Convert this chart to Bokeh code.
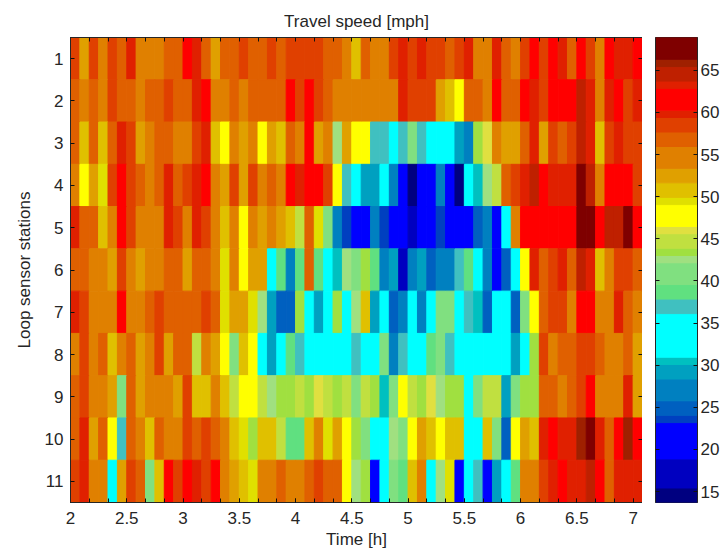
from bokeh.plotting import figure
from bokeh.layouts import row
from bokeh.models import LinearColorMapper, Range1d, LinearAxis, FixedTicker, ColumnDataSource
from bokeh.transform import transform
from bokeh.embed import file_html
from bokeh.resources import INLINE

title = "Travel speed [mph]"
xlabel = "Time [h]"
ylabel = "Loop sensor stations"

row1 = [58.8,52.7,58.8,54.8,58.8,57,63.3,54.8,54.8,54.8,57,57,62,63.3,57,52.7,57,57,58.8,57,57,58.8,57,58.8,58.8,58.8,58.8,57,57,54.8,50.9,57,54.8,54.8,58.8,63.3,58.8,63.3,58.8,58.8,57,58.8,63.3,54.8,54.8,63.3,57,54.8,58.8,62,58.8,62,63.3,57,62,58.8,54.8,62,63.3,63.3,62]
row2 = [57,54.8,57,54.8,58.8,57,57,54.8,57,57,58.8,57,57,63.3,62,54.8,54.8,57,54.8,57,57,57,57,62,58.8,62,58.8,57,54.8,54.8,54.8,54.8,54.8,54.8,54.8,63.3,58.8,58.8,58.8,52.7,50.9,48,57,57,54.8,62,57,57,62,63.3,58.8,62,62,62,64.6,63.3,54.8,63.3,62,58.8,63.3]
row3 = [57,50.9,57,50.9,57,63.3,58.8,52.7,54.8,57,57,54.8,54.8,58.8,63.3,50.9,48,54.8,52.7,54.8,48,52.7,50.9,57,54.8,62,52.7,54.8,42.6,52.7,48,48,36.9,36.9,33.5,36.9,41,36.9,33.5,33.5,33.5,29.2,27,43.5,46.1,54.8,52.7,52.7,57,63.3,52.7,58.8,57,58.8,64.6,63.3,50.9,58.8,63.3,58.8,58.8]
row4 = [54.8,48,52.7,49.6,58.8,62,58.8,57,54.8,57,63.3,57,58.8,63.3,62,54.8,52.7,58.8,52.7,58.8,54.8,57,54.8,62,63.3,62,62,58.8,48,36.9,33.5,29.2,29.2,33.5,27,20.9,14.4,20.9,20.9,27,20.9,14.4,33.5,30.5,42.6,44.8,57,58.8,63.3,64.6,62,63.3,63.3,63.3,67.8,64.6,54.8,62,62,62,58.8]
row5 = [63.3,57,57,50.9,54.8,62,58.8,54.8,54.8,54.8,63.3,58.8,54.8,63.3,58.8,54.8,50.9,54.8,48,54.8,52.7,54.8,52.7,50.9,44.8,57,49.6,41,27,23.4,20.9,20.9,27,23.4,20.9,20.9,16.9,20.9,20.9,23.4,20.9,20.9,20.9,24.7,27,20.9,33.5,54.8,62,62,62,62,62,62,67.8,67.8,62,64.6,64.6,67.8,62]
row6 = [57,57,54.8,54.8,52.7,58.8,54.8,52.7,54.8,54.8,57,57,52.7,57,57,54.8,49.6,54.8,48,52.7,52.7,33.5,38.7,27,38.7,57,38.7,33.5,30.5,42.6,41,43.5,38.7,27,29.2,16.9,27,29.2,24.7,27,27,36.9,38.7,33.5,27,20.9,24.7,33.5,48,63.3,57,58.8,63.3,57,64.6,63.3,50.9,54.8,58.8,58.8,57]
row7 = [63.3,58.8,54.8,54.8,54.8,62,54.8,54.8,57,58.8,57,57,57,57,58.8,57,49.6,52.7,52.7,49.6,42.6,29.2,24.7,24.7,43.5,33.5,29.2,33.5,43.5,33.5,42.6,50.9,29.2,33.5,24.7,27,33.5,27,33.5,41,41,33.5,36.9,30.5,24.7,33.5,33.5,24.7,41,48,57,58.8,58.8,54.8,62,62,54.8,54.8,63.3,57,54.8]
row8 = [54.8,58.8,54.8,57,50.9,54.8,57,52.7,54.8,58.8,52.7,57,57,44.8,54.8,52.7,48,41,50.9,48,33.5,29.2,33.5,38.7,36.9,33.5,33.5,33.5,33.5,33.5,36.9,33.5,33.5,41,27,36.9,33.5,33.5,38.7,41,36.9,33.5,33.5,33.5,33.5,33.5,33.5,29.2,33.5,43.5,58.8,54.8,57,57,58.8,58.8,57,54.8,54.8,57,52.7]
row9 = [57,58.8,54.8,54.8,52.7,41,57,52.7,54.8,54.8,54.8,52.7,58.8,50.9,50.9,54.8,50.9,44.8,48,48,44.8,42.6,43.5,43.5,44.8,43.5,46.1,44.8,43.5,44.8,41,44.8,43.5,30.5,41,48,44.8,43.5,46.1,42.6,43.5,43.5,33.5,41,44.8,44.8,29.2,41,43.5,43.5,57,57,54.8,57,58.8,62,54.8,54.8,54.8,63.3,52.7]
row10 = [57,63.3,52.7,57,48,36.9,57,54.8,50.9,57,54.8,54.8,58.8,57,58.8,57,54.8,50.9,49.6,43.5,50.9,50.9,44.8,38.7,38.7,50.9,54.8,49.6,52.7,48,43.5,41,33.5,33.5,42.6,41,48,52.7,50.9,48,50.9,50.9,33.5,33.5,50.9,41,24.7,48,52.7,50.9,63.3,62,63.3,63.3,65.9,67.8,63.3,57,62,65.9,62]
row11 = [58.8,63.3,54.8,54.8,33.5,52.7,58.8,57,41,50.9,62,58.8,62,63.3,58.8,62,54.8,52.7,50.9,49.6,54.8,54.8,57,54.8,54.8,57,58.8,57,57,48,42.6,43.5,20.9,33.5,41,38.7,50.9,54.8,33.5,42.6,49.6,20.9,33.5,36.9,20.9,29.2,33.5,38.7,54.8,54.8,58.8,63.3,62,63.3,63.3,64.6,62,57,63.3,63.3,63.3]
speeds = [row1,row2,row3,row4,row5,row6,row7,row8,row9,row10,row11]
assert all(len(r) == 61 for r in speeds)

speed_low = 13.7
speed_high = 68.9
start_hour = 2.0
step_hour = 1 / 12

# colour levels of the map, lowest speed first: (colour, number of levels)
band_colors = ["#000080","#0000c0","#0000ff","#0040c0","#0060c0","#0080c0","#00a0c0","#00c0c0","#00ffff","#40c0c0","#60e080","#80e080","#a0e080","#a0e040","#c0e040","#e0e040","#ffff00","#e0e000","#e0c000","#e0a000","#e08000","#e06000","#e04000","#e02000","#ff0000","#e02000","#bf2000","#9f2000","#7f0000"]
band_levels = [2,4,5,1,2,3,2,1,6,2,2,3,1,1,2,1,3,1,2,2,3,2,2,1,3,1,2,1,3]
palette = [c for c, n in zip(band_colors, band_levels) for _ in range(n)]

x_major = [2, 2.5, 3, 3.5, 4, 4.5, 5, 5.5, 6, 6.5, 7]
y_ticks = list(range(1, 12))
cb_ticks = [15, 20, 25, 30, 35, 40, 45, 50, 55, 60, 65]

FONT = "Liberation Sans"
INK = "#262626"
mapper = LinearColorMapper(palette=palette, low=speed_low, high=speed_high)

xs, ys, vs = [], [], []
for i, r in enumerate(speeds):
    for k, v in enumerate(r):
        xs.append(start_hour + (k + 0.5) * step_hour)
        ys.append(i + 1)
        vs.append(v)
src = ColumnDataSource(dict(x=xs, y=ys, v=vs))

x_end = start_hour + len(row1) * step_hour
p = figure(width=642, height=551, output_backend="svg", toolbar_location=None,
           x_range=Range1d(start_hour, x_end), y_range=Range1d(11.5, 0.5),
           min_border_left=70, min_border_right=0, min_border_top=37, min_border_bottom=49,
           x_axis_location=None, y_axis_location=None, background_fill_color="white")
p.grid.visible = False
p.outline_line_color = INK
p.rect("x", "y", width=step_hour, height=1, source=src,
       fill_color=transform("v", mapper), line_color=transform("v", mapper), line_width=1)

minor = [2 + i / 6 for i in range(31)]
def style(ax):
    ax.major_tick_in = 4
    ax.major_tick_out = 0
    ax.minor_tick_in = 4
    ax.minor_tick_out = 0
    ax.major_tick_line_color = "#111111"
    ax.minor_tick_line_color = "#111111"
    ax.axis_line_color = INK
    ax.major_label_text_font = FONT
    ax.major_label_text_font_size = "17px"
    ax.major_label_text_color = INK
    ax.axis_label_text_font = FONT
    ax.axis_label_text_font_size = "17px"
    ax.axis_label_text_font_style = "normal"
    ax.axis_label_text_color = INK

xb = LinearAxis(ticker=FixedTicker(ticks=x_major, minor_ticks=minor), axis_label=xlabel)
style(xb)
xb.major_label_standoff = 9
xb.axis_label_standoff = 3
p.add_layout(xb, "below")
xt = LinearAxis(ticker=FixedTicker(ticks=[], minor_ticks=minor))
style(xt)
p.add_layout(xt, "above")
yl = LinearAxis(ticker=FixedTicker(ticks=y_ticks), axis_label=ylabel)
style(yl)
yl.major_label_standoff = 7
yl.axis_label_standoff = 8
p.add_layout(yl, "left")
yr = LinearAxis(ticker=FixedTicker(ticks=[], minor_ticks=y_ticks))
style(yr)
p.add_layout(yr, "right")

p.title.text = title
p.title.align = "center"
p.title.text_font = FONT
p.title.text_font_size = "17px"
p.title.text_font_style = "normal"
p.title.text_color = INK
p.title.standoff = 14

# colour bar: one block per band of equal colour
step = (speed_high - speed_low) / len(palette)
bottoms, tops, level = [], [], 0
for n in band_levels:
    bottoms.append(speed_low + level * step)
    level += n
    tops.append(speed_low + level * step)
cb_src = ColumnDataSource(dict(bottom=bottoms, top=tops, color=band_colors))
cb = figure(width=82, height=551, output_backend="svg", toolbar_location=None,
            x_range=Range1d(0, 1), y_range=Range1d(speed_low, speed_high),
            min_border_left=13, min_border_right=27, min_border_top=37, min_border_bottom=49,
            x_axis_location=None, y_axis_location=None)
cb.grid.visible = False
cb.outline_line_color = INK
cb.quad(left=0, right=1, bottom="bottom", top="top", fill_color="color", line_color="color",
        line_width=1, source=cb_src)
cr = LinearAxis(ticker=FixedTicker(ticks=cb_ticks))
style(cr)
cr.major_label_standoff = 3
cb.add_layout(cr, "right")
cl = LinearAxis(ticker=FixedTicker(ticks=[], minor_ticks=cb_ticks))
style(cl)
cb.add_layout(cl, "left")

layout = row(p, cb, spacing=0)
open("out.html", "w").write(file_html(layout, INLINE))
